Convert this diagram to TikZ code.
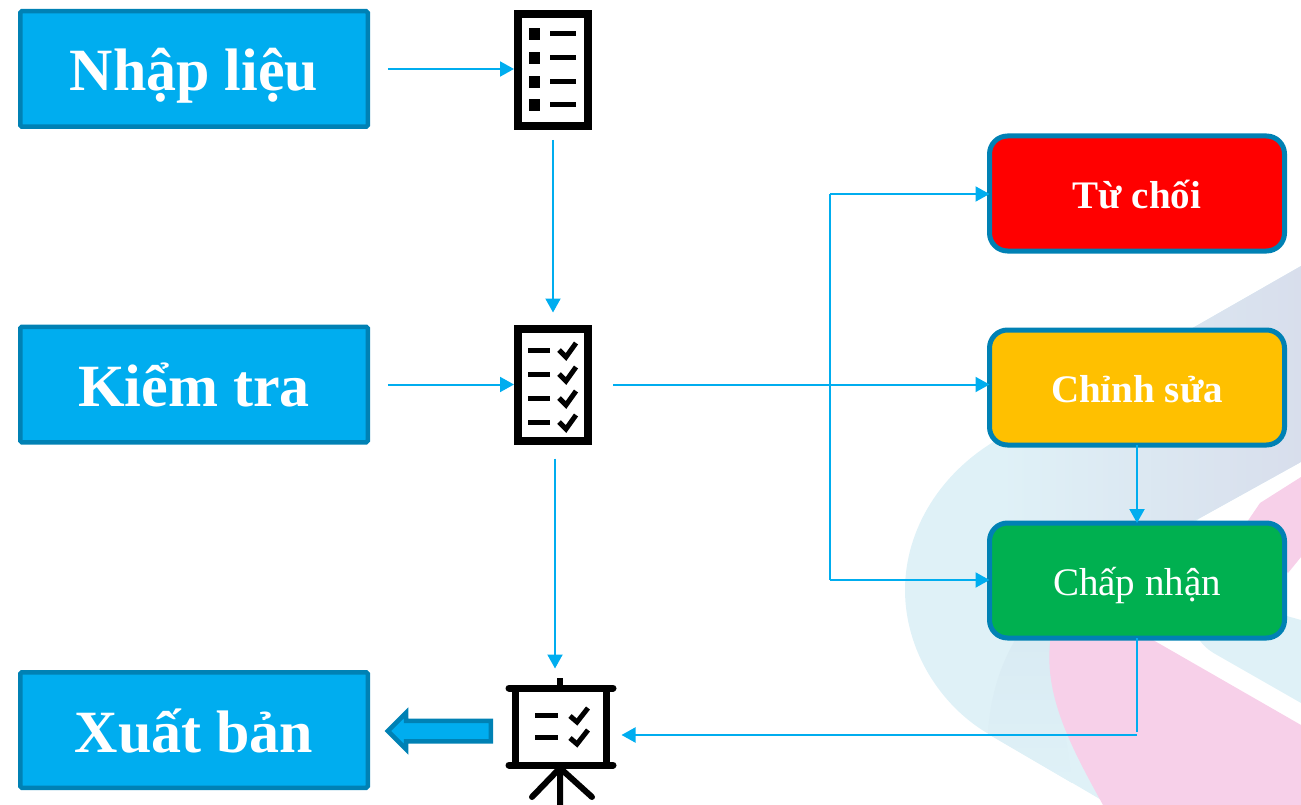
\documentclass[tikz,border=0pt]{standalone}
\usepackage{fontspec}
\setmainfont{Liberation Serif}
\usetikzlibrary{arrows.meta,shapes.arrows}
\definecolor{flowblue}{HTML}{00ADEF}
\definecolor{edgeblue}{HTML}{0081B4}
\definecolor{waveblue}{HTML}{DFF1F7}
\definecolor{wavegray}{HTML}{D8DEEC}
\definecolor{wavedeep}{HTML}{D9EBF3}
\definecolor{wavepink}{HTML}{F7D0E9}
\definecolor{okgreen}{HTML}{00B050}
\definecolor{fixyellow}{HTML}{FFC000}
\tikzset{
	stagebox/.style={draw=edgeblue, line width=4.5pt, fill=flowblue, text=white, rounded corners=1.5pt, outer sep=0pt, minimum width=347.5pt, minimum height=115.5pt, text height=46pt, text depth=2pt, font=\fontsize{60}{60}\selectfont\bfseries},
	resultbox/.style={draw=edgeblue, line width=5pt, text=white, rounded corners=18pt, outer sep=0pt, minimum width=295pt, minimum height=115pt, text height=32pt, text depth=2pt, font=\fontsize{39}{40}\selectfont},
	sheet/.style={draw=black, line width=8pt, outer sep=0pt, minimum width=70pt, minimum height=112pt},
	screen/.style={draw=black, line width=7pt, outer sep=0pt, minimum width=91pt, minimum height=77pt},
	glyphmark/.style={draw=black, line width=5pt},
	flow/.style={draw=flowblue, line width=2pt, -{Stealth[length=14pt,width=15pt,inset=0pt]}},
	plainflow/.style={draw=flowblue, line width=2pt}
}
\begin{document}
\begin{tikzpicture}[x=1pt, y=-1pt]
	\useasboundingbox (0,0) rectangle (1301,805);
	% background
	\fill[waveblue] (1301,266) -- (1000,438) .. controls (940,472) and (905,530) .. (905,590)
		.. controls (905,650) and (940,705) .. (987,733) -- (1110,805) -- (1200,805) -- (1100,600) -- (1200,518) -- (1301,462) -- cycle;
	\shade[left color=waveblue, right color=wavegray] (1301,266) -- (1100,381) -- (1000,438) -- (1000,600) -- (1200,518) -- (1301,462) -- cycle;
	\shade[top color=wavedeep, bottom color=waveblue] (1015,640) .. controls (998,670) and (990,700) .. (988,734) -- (1072,783) -- (1053,640) -- cycle;
	\fill[wavepink] (1153,640) -- (1301,725) -- (1301,805) -- (1103,805) .. controls (1070,745) and (1040,690) .. (1052,630) -- cycle;
	\fill[wavepink] (1301,477) -- (1260,503) -- (1245,525) -- (1288,573) -- (1301,557) -- cycle;
	\fill[waveblue] (1301,620) -- (1301,703) -- (1217,655) .. controls (1208,650) and (1202,645) .. (1197,636) -- (1230,600) -- cycle;
	% boxes
	\node[stagebox] (nhaplieu) at (194,69) {Nhập liệu};
	\node[stagebox] (kiemtra) at (194,384.5) {Kiểm tra};
	\node[stagebox] (xuatban) at (194,730) {Xuất bản};
	\node[resultbox, fill=red, font=\fontsize{39}{40}\selectfont\bfseries] (tuchoi) at (1137,193.5) {Từ chối};
	\node[resultbox, fill=fixyellow, font=\fontsize{39}{40}\selectfont\bfseries] (chinhsua) at (1137,387.5) {Chỉnh sửa};
	\node[resultbox, fill=okgreen] (chapnhan) at (1137,580.5) {Chấp nhận};
	% icons
	\node[sheet] (iconlist) at (553,70) {};
	\foreach \y in {34,58,82,105} {
		\fill[black] (529,\y-6) rectangle (540,\y+6);
		\draw[glyphmark] (550,\y) -- (576,\y);
	}
	\node[sheet] (iconcheck) at (553,384.5) {};
	\foreach \y in {350,374,398,422} {
		\draw[glyphmark] (528,\y) -- (550,\y);
		\draw[glyphmark] (559,\y) -- (566,\y+7) -- (576,\y-7);
	}
	\node[screen] (iconshow) at (561,727) {};
	\draw[black, line width=7pt, line cap=round] (509,688) -- (613,688);
	\draw[black, line width=7pt, line cap=round] (509,765) -- (613,765);
	\draw[black, line width=6pt] (560,678) -- (560,688);
	\draw[black, line width=6pt, line cap=round] (560,765) -- (560,805) (560,768) -- (532,797) (560,768) -- (592,797);
	\foreach \y in {715,737} {
		\draw[glyphmark] (535,\y) -- (558,\y);
		\draw[glyphmark] (570,\y+1) -- (577,\y+7) -- (588,\y-7);
	}
	\node[single arrow, shape border rotate=180, draw=edgeblue, line width=4.5pt, fill=flowblue, minimum height=103pt, inner sep=8pt, single arrow head extend=8pt, single arrow head indent=0pt, outer sep=0pt] (backarrow) at (444.5,731) {};
	% connectors
	\coordinate (trunktop) at (830,194);
	\coordinate (trunkbot) at (830,580);
	\coordinate (turn) at (1137,735);
	\path[every edge/.style={flow}]
	(nhaplieu.east) edge[shorten <=20pt, shorten >=4pt] (nhaplieu.east -| iconlist.west)
	(kiemtra.east) edge[shorten <=20pt, shorten >=4pt] (kiemtra.east -| iconcheck.west)
	(iconlist.south) edge[shorten <=14pt, shorten >=16pt] (iconcheck.north)
	([xshift=2pt]iconcheck.south) edge[shorten <=18pt, shorten >=20pt] ([xshift=-6pt]iconshow.north)
	(iconcheck.east) edge[shorten <=25pt] (chinhsua.west |- iconcheck.east)
	(trunktop) edge (trunktop -| tuchoi.west)
	(trunkbot) edge (trunkbot -| chapnhan.west)
	(chinhsua.south) edge (chapnhan.north)
	(turn) edge[shorten >=15pt] (iconshow.east |- turn);
	\path[every edge/.style={plainflow}]
	(trunktop) edge (trunkbot)
	(chapnhan.south) edge[shorten >=3pt] (turn);
\end{tikzpicture}
\end{document}
